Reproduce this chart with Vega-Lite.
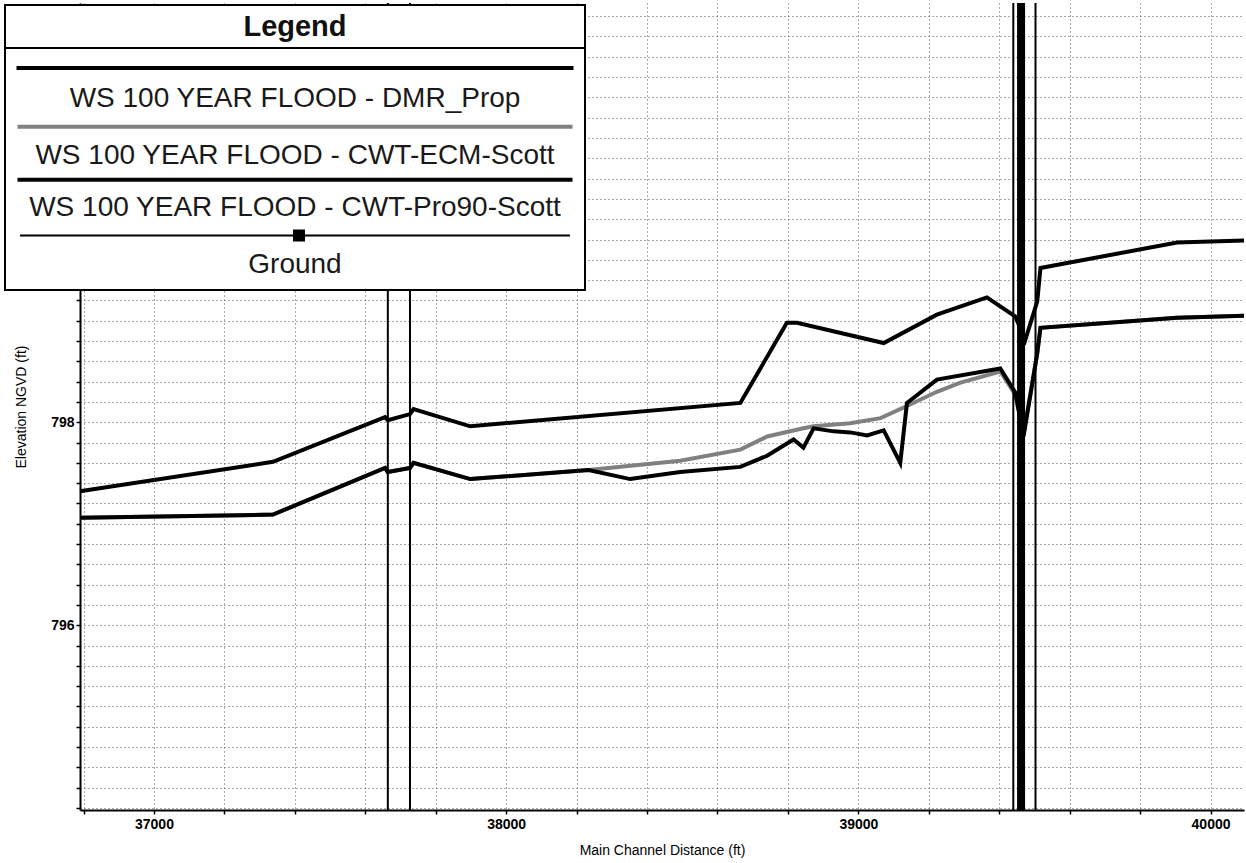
{
  "$schema": "https://vega.github.io/schema/vega-lite/v6.json",
  "width": 1164,
  "height": 807,
  "autosize": "none",
  "padding": {"left": 80, "top": 3, "right": 2, "bottom": 53},
  "background": "white",
  "config": {"view": {"stroke": null}, "font": "Liberation Sans", "legend": {"strokeWidth": 2}},
  "layer": [
    {
      "data": {
        "values": [
          {"series": "WS  100 YEAR FLOOD - CWT-ECM-Scott", "station": 36790, "elevation": 797.06},
          {"series": "WS  100 YEAR FLOOD - CWT-ECM-Scott", "station": 37338, "elevation": 797.09},
          {"series": "WS  100 YEAR FLOOD - CWT-ECM-Scott", "station": 37656, "elevation": 797.55},
          {"series": "WS  100 YEAR FLOOD - CWT-ECM-Scott", "station": 37664, "elevation": 797.51},
          {"series": "WS  100 YEAR FLOOD - CWT-ECM-Scott", "station": 37727, "elevation": 797.55},
          {"series": "WS  100 YEAR FLOOD - CWT-ECM-Scott", "station": 37737, "elevation": 797.6},
          {"series": "WS  100 YEAR FLOOD - CWT-ECM-Scott", "station": 37898, "elevation": 797.44},
          {"series": "WS  100 YEAR FLOOD - CWT-ECM-Scott", "station": 38234, "elevation": 797.53},
          {"series": "WS  100 YEAR FLOOD - CWT-ECM-Scott", "station": 38494, "elevation": 797.62},
          {"series": "WS  100 YEAR FLOOD - CWT-ECM-Scott", "station": 38665, "elevation": 797.73},
          {"series": "WS  100 YEAR FLOOD - CWT-ECM-Scott", "station": 38741, "elevation": 797.86},
          {"series": "WS  100 YEAR FLOOD - CWT-ECM-Scott", "station": 38844, "elevation": 797.94},
          {"series": "WS  100 YEAR FLOOD - CWT-ECM-Scott", "station": 38873, "elevation": 797.96},
          {"series": "WS  100 YEAR FLOOD - CWT-ECM-Scott", "station": 38977, "elevation": 797.99},
          {"series": "WS  100 YEAR FLOOD - CWT-ECM-Scott", "station": 39063, "elevation": 798.04},
          {"series": "WS  100 YEAR FLOOD - CWT-ECM-Scott", "station": 39138, "elevation": 798.16},
          {"series": "WS  100 YEAR FLOOD - CWT-ECM-Scott", "station": 39223, "elevation": 798.3},
          {"series": "WS  100 YEAR FLOOD - CWT-ECM-Scott", "station": 39290, "elevation": 798.39},
          {"series": "WS  100 YEAR FLOOD - CWT-ECM-Scott", "station": 39403, "elevation": 798.5},
          {"series": "WS  100 YEAR FLOOD - CWT-ECM-Scott", "station": 39446, "elevation": 798.27},
          {"series": "WS  100 YEAR FLOOD - CWT-ECM-Scott", "station": 39469, "elevation": 797.88},
          {"series": "WS  100 YEAR FLOOD - CWT-ECM-Scott", "station": 39508, "elevation": 798.68},
          {"series": "WS  100 YEAR FLOOD - CWT-ECM-Scott", "station": 39517, "elevation": 798.93},
          {"series": "WS  100 YEAR FLOOD - CWT-ECM-Scott", "station": 39905, "elevation": 799.03},
          {"series": "WS  100 YEAR FLOOD - CWT-ECM-Scott", "station": 40095, "elevation": 799.05},
          {"series": "WS  100 YEAR FLOOD - CWT-Pro90-Scott", "station": 36790, "elevation": 797.06},
          {"series": "WS  100 YEAR FLOOD - CWT-Pro90-Scott", "station": 37338, "elevation": 797.09},
          {"series": "WS  100 YEAR FLOOD - CWT-Pro90-Scott", "station": 37656, "elevation": 797.55},
          {"series": "WS  100 YEAR FLOOD - CWT-Pro90-Scott", "station": 37664, "elevation": 797.51},
          {"series": "WS  100 YEAR FLOOD - CWT-Pro90-Scott", "station": 37727, "elevation": 797.55},
          {"series": "WS  100 YEAR FLOOD - CWT-Pro90-Scott", "station": 37737, "elevation": 797.6},
          {"series": "WS  100 YEAR FLOOD - CWT-Pro90-Scott", "station": 37898, "elevation": 797.44},
          {"series": "WS  100 YEAR FLOOD - CWT-Pro90-Scott", "station": 38234, "elevation": 797.53},
          {"series": "WS  100 YEAR FLOOD - CWT-Pro90-Scott", "station": 38352, "elevation": 797.44},
          {"series": "WS  100 YEAR FLOOD - CWT-Pro90-Scott", "station": 38494, "elevation": 797.51},
          {"series": "WS  100 YEAR FLOOD - CWT-Pro90-Scott", "station": 38665, "elevation": 797.56},
          {"series": "WS  100 YEAR FLOOD - CWT-Pro90-Scott", "station": 38741, "elevation": 797.67},
          {"series": "WS  100 YEAR FLOOD - CWT-Pro90-Scott", "station": 38816, "elevation": 797.83},
          {"series": "WS  100 YEAR FLOOD - CWT-Pro90-Scott", "station": 38844, "elevation": 797.75},
          {"series": "WS  100 YEAR FLOOD - CWT-Pro90-Scott", "station": 38873, "elevation": 797.94},
          {"series": "WS  100 YEAR FLOOD - CWT-Pro90-Scott", "station": 38930, "elevation": 797.91},
          {"series": "WS  100 YEAR FLOOD - CWT-Pro90-Scott", "station": 38977, "elevation": 797.9},
          {"series": "WS  100 YEAR FLOOD - CWT-Pro90-Scott", "station": 39025, "elevation": 797.87},
          {"series": "WS  100 YEAR FLOOD - CWT-Pro90-Scott", "station": 39072, "elevation": 797.92},
          {"series": "WS  100 YEAR FLOOD - CWT-Pro90-Scott", "station": 39119, "elevation": 797.6},
          {"series": "WS  100 YEAR FLOOD - CWT-Pro90-Scott", "station": 39138, "elevation": 798.19},
          {"series": "WS  100 YEAR FLOOD - CWT-Pro90-Scott", "station": 39223, "elevation": 798.42},
          {"series": "WS  100 YEAR FLOOD - CWT-Pro90-Scott", "station": 39403, "elevation": 798.53},
          {"series": "WS  100 YEAR FLOOD - CWT-Pro90-Scott", "station": 39446, "elevation": 798.29},
          {"series": "WS  100 YEAR FLOOD - CWT-Pro90-Scott", "station": 39469, "elevation": 797.86},
          {"series": "WS  100 YEAR FLOOD - CWT-Pro90-Scott", "station": 39508, "elevation": 798.68},
          {"series": "WS  100 YEAR FLOOD - CWT-Pro90-Scott", "station": 39517, "elevation": 798.93},
          {"series": "WS  100 YEAR FLOOD - CWT-Pro90-Scott", "station": 39905, "elevation": 799.03},
          {"series": "WS  100 YEAR FLOOD - CWT-Pro90-Scott", "station": 40095, "elevation": 799.05},
          {"series": "WS  100 YEAR FLOOD - DMR_Prop", "station": 36790, "elevation": 797.32},
          {"series": "WS  100 YEAR FLOOD - DMR_Prop", "station": 37338, "elevation": 797.61},
          {"series": "WS  100 YEAR FLOOD - DMR_Prop", "station": 37656, "elevation": 798.05},
          {"series": "WS  100 YEAR FLOOD - DMR_Prop", "station": 37664, "elevation": 798.02},
          {"series": "WS  100 YEAR FLOOD - DMR_Prop", "station": 37727, "elevation": 798.08},
          {"series": "WS  100 YEAR FLOOD - DMR_Prop", "station": 37737, "elevation": 798.13},
          {"series": "WS  100 YEAR FLOOD - DMR_Prop", "station": 37898, "elevation": 797.96},
          {"series": "WS  100 YEAR FLOOD - DMR_Prop", "station": 38665, "elevation": 798.19},
          {"series": "WS  100 YEAR FLOOD - DMR_Prop", "station": 38797, "elevation": 798.98},
          {"series": "WS  100 YEAR FLOOD - DMR_Prop", "station": 38826, "elevation": 798.98},
          {"series": "WS  100 YEAR FLOOD - DMR_Prop", "station": 39072, "elevation": 798.78},
          {"series": "WS  100 YEAR FLOOD - DMR_Prop", "station": 39223, "elevation": 799.06},
          {"series": "WS  100 YEAR FLOOD - DMR_Prop", "station": 39365, "elevation": 799.23},
          {"series": "WS  100 YEAR FLOOD - DMR_Prop", "station": 39446, "elevation": 799.04},
          {"series": "WS  100 YEAR FLOOD - DMR_Prop", "station": 39474, "elevation": 798.81},
          {"series": "WS  100 YEAR FLOOD - DMR_Prop", "station": 39508, "elevation": 799.19},
          {"series": "WS  100 YEAR FLOOD - DMR_Prop", "station": 39517, "elevation": 799.52},
          {"series": "WS  100 YEAR FLOOD - DMR_Prop", "station": 39905, "elevation": 799.77},
          {"series": "WS  100 YEAR FLOOD - DMR_Prop", "station": 40095, "elevation": 799.79}
        ]
      },
      "mark": {"type": "line", "strokeWidth": 4},
      "encoding": {
        "x": {
          "field": "station",
          "type": "quantitative",
          "title": "Main Channel Distance (ft)",
          "scale": {"domain": [36790, 40095], "nice": false, "zero": false},
          "axis": {
            "values": [36800, 36900, 37000, 37100, 37200, 37300, 37400, 37500, 37600, 37700, 37800, 37900, 38000, 38100, 38200, 38300, 38400, 38500, 38600, 38700, 38800, 38900, 39000, 39100, 39200, 39300, 39400, 39500, 39600, 39700, 39800, 39900, 40000],
            "format": "d",
            "labelExpr": "datum.value % 500 === 0 ? datum.label : ''",
            "labelOverlap": false,
            "labelFlush": false,
            "grid": true,
            "gridColor": "#555555",
            "gridWidth": 1,
            "gridDash": [1, 3],
            "tickSize": 4,
            "tickColor": "black",
            "tickWidth": 1.5,
            "domainColor": "black",
            "domainWidth": 2,
            "labelFont": "Liberation Sans",
            "labelFontSize": 14,
            "labelFontWeight": "bold",
            "labelColor": "black",
            "labelPadding": 3,
            "titleFont": "Liberation Sans",
            "titleFontSize": 14,
            "titleFontWeight": "normal",
            "titleColor": "black",
            "titlePadding": 12
          }
        },
        "y": {
          "field": "elevation",
          "type": "quantitative",
          "title": "Elevation NGVD (ft)",
          "scale": {"domain": [794.18, 802.13], "nice": false, "zero": false},
          "axis": {
            "values": [794.2, 794.4, 794.6, 794.8, 795, 795.2, 795.4, 795.6, 795.8, 796, 796.2, 796.4, 796.6, 796.8, 797, 797.2, 797.4, 797.6, 797.8, 798, 798.2, 798.4, 798.6, 798.8, 799, 799.2, 799.4, 799.6, 799.8, 800, 800.2, 800.4, 800.6, 800.8, 801, 801.2, 801.4, 801.6, 801.8, 802],
            "labelExpr": "round(datum.value * 10) % 20 === 0 ? format(datum.value, 'd') : ''",
            "labelOverlap": false,
            "labelFlush": false,
            "grid": true,
            "gridColor": "#555555",
            "gridWidth": 1,
            "gridDash": [1, 3],
            "tickSize": 4,
            "tickColor": "black",
            "tickWidth": 1.5,
            "domainColor": "black",
            "domainWidth": 2,
            "labelFont": "Liberation Sans",
            "labelFontSize": 14,
            "labelFontWeight": "bold",
            "labelColor": "black",
            "labelPadding": 2,
            "titleFont": "Liberation Sans",
            "titleFontSize": 14,
            "titleFontWeight": "normal",
            "titleColor": "black",
            "titlePadding": 22
          }
        },
        "color": {
          "field": "series",
          "type": "nominal",
          "scale": {
            "domain": ["WS  100 YEAR FLOOD - DMR_Prop", "WS  100 YEAR FLOOD - CWT-ECM-Scott", "WS  100 YEAR FLOOD - CWT-Pro90-Scott", "Ground"],
            "range": ["#000000", "#808080", "#000000", "#000000"]
          },
          "legend": {
            "orient": "none",
            "legendX": -75,
            "legendY": 2,
            "direction": "vertical",
            "title": "Legend",
            "titleFont": "Liberation Sans",
            "titleFontSize": 29,
            "titleFontWeight": "bold",
            "titleColor": "#111111",
            "titleAnchor": "middle",
            "titleAlign": "center",
            "titleBaseline": "line-top",
            "titleLineHeight": 46,
            "titlePadding": 51,
            "padding": 0,
            "fillColor": "white",
            "strokeColor": "black",
            "symbolSize": 4,
            "symbolType": {"expr": "datum.index === 0 ? 'M0,-35h0 M-277.5,-32H277.5V-30H-277.5Z M0,15h0' : datum.index === 1 ? 'M-282,-30h0 M282,-30h0 M-277.5,-29.3H277.5 M0,7h0' : datum.index === 2 ? 'M0,-29h0 M-277.5,-28.3H277.5 M0,10h0' : 'M0,-35h0 M-275,-29.4H275 M-1,-34.4H9V-24.4H-1Z M0,21h0'"},
            "symbolStrokeWidth": {"expr": "((datum.index === 0 || datum.index === 3) ? 2 : 4)"},
            "symbolFillColor": "black",
            "symbolOpacity": 1,
            "symbolOffset": 276,
            "labelFont": "Liberation Sans",
            "labelFontSize": 28,
            "labelColor": "#1a1a1a",
            "labelAlign": "center",
            "labelBaseline": "middle",
            "labelOffset": -14,
            "labelLimit": 700,
            "rowPadding": 0
          }
        }
      }
    },
    {
      "data": {"values": [{"station": 37664, "kind": "structure"}, {"station": 37727, "kind": "structure"}, {"station": 39440, "kind": "structure"}, {"station": 39503, "kind": "structure"}]},
      "mark": {"type": "rule", "strokeWidth": 2, "color": "black"},
      "encoding": {
        "x": {"field": "station", "type": "quantitative", "title": "Main Channel Distance (ft)"},
        "strokeDash": {
          "field": "kind",
          "type": "nominal",
          "scale": {"domain": ["structure"], "range": [[1, 0]]},
          "legend": {
            "orient": "none",
            "legendX": -75,
            "legendY": 43,
            "title": null,
            "padding": 0,
            "fillColor": "transparent",
            "strokeColor": "transparent",
            "symbolType": "M-290,0H290",
            "symbolSize": 4,
            "symbolStrokeWidth": 2,
            "symbolStrokeColor": "black",
            "symbolOpacity": 1,
            "symbolOffset": 288,
            "labelExpr": "''",
            "labelFontSize": 1
          }
        }
      }
    },
    {
      "data": {"values": [{"station": 39462}]},
      "mark": {"type": "rule", "strokeWidth": 8, "color": "black"},
      "encoding": {"x": {"field": "station", "type": "quantitative", "title": "Main Channel Distance (ft)"}}
    }
  ]
}
